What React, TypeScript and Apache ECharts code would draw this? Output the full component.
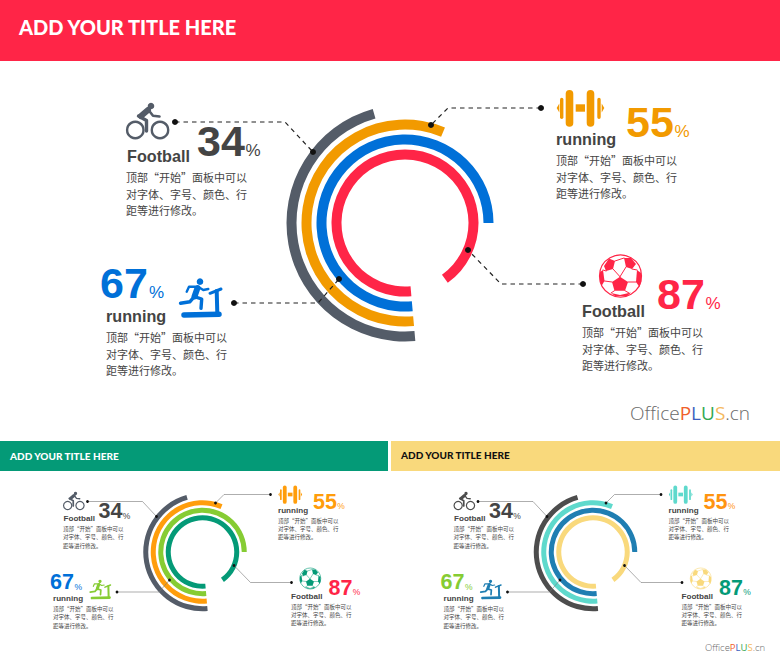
import React, { useEffect, useRef } from "react";
import * as echarts from "echarts";

const titleText = "ADD YOUR TITLE HERE";
const ringNames = ["ring 87", "ring 67", "ring 55", "ring 34"];
// swept share of the circle of each ring, inner to outer
const ringSweep = [91.5, 76.4, 57.7, 47];
const percentLabels = ["34", "55", "87", "67"];
const itemNames = ["Football", "running", "Football", "running"];
const paragraphLines = ["顶部“开始”面板中可以", "对字体、字号、颜色、行", "距等进行修改。"];

const mainRings = ["#ff2547", "#0070d8", "#f29a00", "#545c68"];
const greenRings = ["#049a77", "#86cc33", "#ff9d0b", "#545c68"];
const sandRings = ["#f9d97c", "#1f7eb2", "#5ed9cc", "#4d4d4d"];

const mainNumbers = ["#444444", "#f29a00", "#ff2547", "#0070d8"];
const greenNumbers = ["#444444", "#ff9d0b", "#ff2547", "#0070d8"];
const sandNumbers = ["#444444", "#ff9410", "#049a77", "#86cc33"];

const mainIcons = ["#545c68", "#f29a00", "#ff2547", "#0070d8"];
const greenIcons = ["#545c68", "#ff9d0b", "#049a77", "#86cc33"];
const sandIcons = ["#4d4d4d", "#5ed9cc", "#f9d97c", "#1f7eb2"];

const BASE_X = 405;
const BASE_Y = 223;

const layouts = [
  { name: [127, 156], num: [197, 141], pct: [245.5, 150.5], para: [126, 177], leader: [[175, 122], [285, 122], [313, 152]] },
  { name: [556, 139], num: [626, 122], pct: [674.5, 131.5], para: [556, 160], leader: [[541, 108], [448, 108], [431, 125]] },
  { name: [582, 311], num: [657, 294], pct: [705.5, 303.5], para: [582, 332], leader: [[583, 284], [501, 284], [468, 250]] },
  { name: [106, 316], num: [100, 283], pct: [149, 292.5], para: [106, 337], leader: [[234, 303], [318, 303], [339, 279]] },
];

const stroke = (points: number[][], color: string, lineWidth: number) => ({
  type: "polyline",
  shape: { points },
  style: { stroke: color, fill: "none", lineWidth, lineCap: "round", lineJoin: "round" },
});
const dot = (cx: number, cy: number, r: number, color: string) => ({
  type: "circle",
  shape: { cx, cy, r },
  style: { fill: color },
});
const ring = (cx: number, cy: number, r: number, color: string, lineWidth: number) => ({
  type: "circle",
  shape: { cx, cy, r },
  style: { fill: "none", stroke: color, lineWidth },
});
const bar = (x: number, y: number, width: number, height: number, r: number, color: string) => ({
  type: "rect",
  shape: { x, y, width, height, r },
  style: { fill: color },
});
const poly = (points: number[][], color: string) => ({
  type: "polygon",
  shape: { points },
  style: { fill: color },
});

const bikeIcon = (c: string) => [
  ring(135.3, 130, 8.2, c, 2.4),
  ring(160, 130, 8.2, c, 2.4),
  dot(151, 106, 3.3, c),
  stroke([[141, 116], [148, 110]], c, 6),
  stroke([[148.5, 110], [153, 115.7], [159.5, 116.5]], c, 2.6),
  stroke([[138.5, 116], [146.5, 120.5], [146.5, 131]], c, 3.4),
];

const barbellIcon = (c: string) => [
  bar(565.7, 90, 7.6, 36.7, 3.8, c),
  bar(586.7, 90, 7.6, 36.7, 3.8, c),
  bar(560, 97.7, 3.4, 21.3, 1.7, c),
  bar(597.3, 97.7, 3.4, 21.3, 1.7, c),
  poly([[559.3, 103.5], [556.7, 108], [559.3, 112.5]], c),
  poly([[601.7, 103.5], [604.3, 108], [601.7, 112.5]], c),
  bar(575.7, 104.3, 9.3, 7.4, 0, c),
];

const ballIcon = (c: string) => [
  dot(620.5, 276, 21, "#ffffff"),
  ring(620.5, 276, 21, c, 1.2),
  poly([[620, 276.7], [628, 282], [625, 290.7], [614.5, 290.7], [612, 282]], c),
  poly([[604, 266], [609, 258.5], [615, 261], [613, 269], [606, 271]], c),
  poly([[624, 258], [631, 258], [636, 264], [632, 269], [626, 267]], c),
  poly([[600, 272], [603, 270], [604.5, 281], [601.5, 286], [599.8, 280]], c),
  poly([[637, 270], [641, 273], [641.3, 281], [639.5, 287], [636, 282]], c),
  poly([[611, 293], [620, 295], [631, 292.5], [627, 296], [615, 296]], c),
  stroke([[615, 261], [624, 258]], c, 1),
  stroke([[620, 276.7], [613, 269]], c, 1),
  stroke([[620, 276.7], [626, 267]], c, 1),
  stroke([[628, 282], [636, 282]], c, 1),
  stroke([[612, 282], [604.5, 281]], c, 1),
  stroke([[614.5, 290.7], [611, 293]], c, 1),
  stroke([[625, 290.7], [629, 293]], c, 1),
  stroke([[606, 271], [603, 270]], c, 1),
  stroke([[632, 269], [637, 270]], c, 1),
];

const treadmillIcon = (c: string) => [
  dot(200, 281.7, 3.3, c),
  stroke([[197.5, 288], [194.5, 296.5]], c, 6),
  stroke([[198, 286.7], [203.3, 290], [208.3, 289]], c, 2.4),
  stroke([[195, 286.7], [189, 286.7], [186.7, 291.7]], c, 2.4),
  stroke([[194.3, 296.7], [201.7, 299], [201, 308.3]], c, 3.4),
  stroke([[194.3, 296.7], [190, 301.7], [180.5, 303.3]], c, 3.4),
  stroke([[184, 315], [219, 314.3]], c, 5.5),
  stroke([[216.7, 291], [217.3, 313]], c, 4),
  stroke([[210, 293.3], [221, 289]], c, 3),
];

const iconMakers = [bikeIcon, barbellIcon, ballIcon, treadmillIcon];

function panel(
  cx: number,
  cy: number,
  s: number,
  numberColors: string[],
  iconColors: string[],
  small: boolean,
) {
  const px = (x: number) => cx + (x - BASE_X) * s;
  const py = (y: number) => cy + (y - BASE_Y) * s;
  const out: any[] = [];
  const body = "#444444";
  layouts.forEach((l, i) => {
    out.push({
      type: "group",
      x: cx - BASE_X * s,
      y: cy - BASE_Y * s,
      scaleX: s,
      scaleY: s,
      z: 100,
      children: iconMakers[i](iconColors[i]),
    });
    out.push({
      type: "text",
      z: 100,
      x: px(l.name[0]),
      y: py(l.name[1]),
      style: {
        text: itemNames[i],
        fill: body,
        font: `bold ${16.2 * s}px "Liberation Sans"`,
        verticalAlign: "middle",
      },
    });
    out.push({
      type: "text",
      z: 100,
      x: px(l.num[0]),
      y: py(l.num[1]),
      style: {
        text: percentLabels[i],
        fill: numberColors[i],
        font: `bold ${43 * s}px "Liberation Sans"`,
        verticalAlign: "middle",
      },
    });
    out.push({
      type: "text",
      z: 100,
      x: px(l.pct[0]),
      y: py(l.pct[1]),
      style: {
        text: "%",
        fill: numberColors[i],
        font: `400 ${17 * s}px "Liberation Sans"`,
        verticalAlign: "middle",
      },
    });
    paragraphLines.forEach((t, k) => {
      out.push({
        type: "text",
        z: 100,
        x: px(l.para[0]),
        y: py(l.para[1] + k * 16.7),
        style: {
          text: t,
          fill: body,
          font: `${11 * s}px "Noto Sans CJK SC"`,
          verticalAlign: "middle",
        },
      });
    });
    const pts = l.leader.map((p) => [px(p[0]), py(p[1])]);
    out.push({
      type: "polyline",
      z: 100,
      shape: { points: pts },
      style: small
        ? { stroke: "#777777", lineWidth: 0.6, fill: "none" }
        : { stroke: "#222222", lineWidth: 1.2, lineDash: [4.5, 4], fill: "none" },
    });
    [pts[0], pts[2]].forEach((p) => {
      out.push({ ...dot(p[0], p[1], small ? 1.4 : 3, "#111111"), z: 101 });
    });
  });
  return out;
}

const band = (x: number, y: number, width: number, height: number, fill: string) => ({
  type: "rect",
  z: 1,
  shape: { x, y, width, height },
  style: { fill },
});

const title = (x: number, y: number, size: number, fill: string) => ({
  type: "text",
  z: 100,
  x,
  y,
  style: { text: titleText, fill, font: `900 ${size}px Lato`, verticalAlign: "middle" },
});

const logo = (x: number, y: number, size: number) => ({
  type: "text",
  z: 100,
  x,
  y,
  style: {
    text: "{a|Office}{p|P}{l|L}{u|U}{s|S}{a|.cn}",
    verticalAlign: "middle",
    rich: {
      a: { fill: "#6a6a6a", font: `300 ${size}px "Open Sans"` },
      p: { fill: "#f0602b", font: `400 ${size}px "Open Sans"` },
      l: { fill: "#3b5fc0", font: `400 ${size}px "Open Sans"` },
      u: { fill: "#33a852", font: `400 ${size}px "Open Sans"` },
      s: { fill: "#f5b95f", font: `400 ${size}px "Open Sans"` },
    },
  },
});

const polars = [
  { center: [BASE_X, BASE_Y], radius: [61, 121], width: 10, colors: mainRings },
  { center: [202.5, 552], radius: [30.5, 60.5], width: 5, colors: greenRings },
  { center: [593, 552], radius: [30.5, 60.5], width: 5, colors: sandRings },
];

export default function App() {
  const ref = useRef<HTMLDivElement>(null);
  useEffect(() => {
    const chart = echarts.init(ref.current!, undefined, { renderer: "svg" });
    chart.setOption({
      animation: false,
      backgroundColor: "#ffffff",
      polar: polars.map((p) => ({ center: p.center, radius: p.radius })),
      angleAxis: polars.map((_, i) => ({
        polarIndex: i,
        type: "value",
        min: 0,
        max: 100,
        startAngle: 275,
        clockwise: true,
        show: false,
      })),
      radiusAxis: polars.map((_, i) => ({
        polarIndex: i,
        type: "category",
        data: ringNames,
        show: false,
      })),
      series: polars.map((p, i) => ({
        type: "bar",
        coordinateSystem: "polar",
        polarIndex: i,
        barWidth: p.width,
        silent: true,
        data: ringSweep.map((v, k) => ({ value: v, itemStyle: { color: p.colors[k] } })),
      })),
      graphic: {
        elements: [
          band(0, 0, 780, 61, "#ff2547"),
          band(0, 441, 388, 30, "#049a77"),
          band(391, 441, 389, 30, "#f9d97c"),
          title(19, 27, 20, "#ffffff"),
          title(10, 456, 10, "#ffffff"),
          title(401, 454.5, 10, "#111111"),
          ...panel(BASE_X, BASE_Y, 1, mainNumbers, mainIcons, false),
          ...panel(202.5, 552, 0.5, greenNumbers, greenIcons, true),
          ...panel(593, 552, 0.5, sandNumbers, sandIcons, true),
          logo(630, 413, 19),
          logo(705, 647, 9.5),
        ],
      },
    });
    return () => chart.dispose();
  }, []);
  return <div ref={ref} style={{ position: "fixed", left: 0, top: 0, width: 780, height: 660 }} />;
}
